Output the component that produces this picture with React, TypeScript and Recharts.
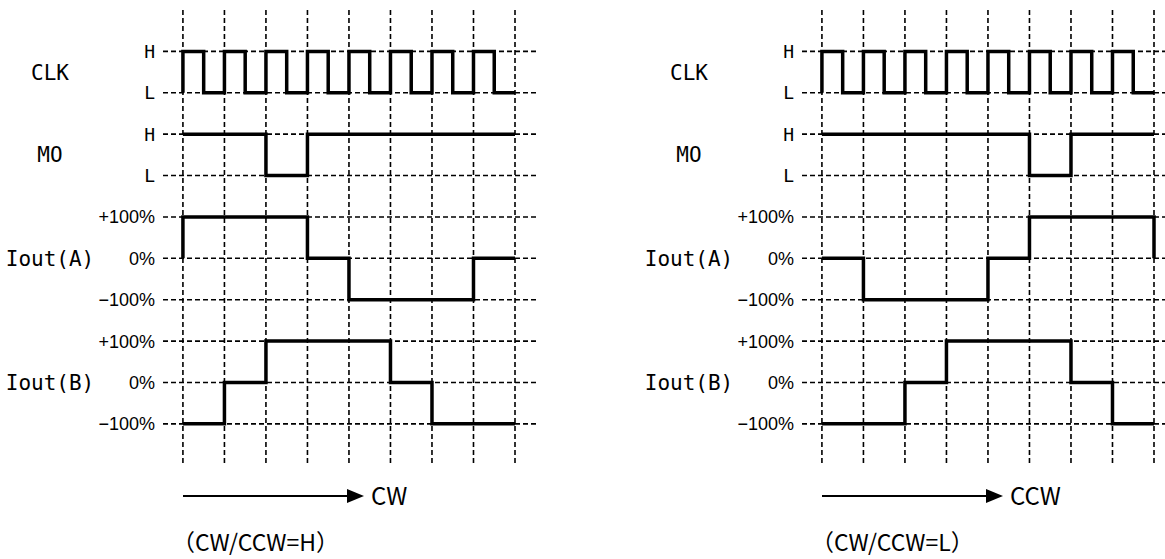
import React from "react";
import { CartesianGrid, Line, LineChart, XAxis, YAxis } from "recharts";

// one grid column = one clock period, 8 periods shown
const clkTimes = [0, 0, 0.5, 1, 1.5, 2, 2.5, 3, 3.5, 4, 4.5, 5, 5.5, 6, 6.5, 7, 7.5, 8];
const clkLevels = [0, 1, 0, 1, 0, 1, 0, 1, 0, 1, 0, 1, 0, 1, 0, 1, 0, 0];

// CW/CCW = H
const cwMoTimes = [0, 2, 3, 8];
const cwMoLevels = [1, 0, 1, 1];
const cwIaTimes = [0, 0, 3, 4, 7, 8];
const cwIaLevels = [0, 100, 0, -100, 0, 0];
const cwIbTimes = [0, 1, 2, 5, 6, 8];
const cwIbLevels = [-100, 0, 100, 0, -100, -100];

// CW/CCW = L
const ccwMoTimes = [0, 5, 6, 8];
const ccwMoLevels = [1, 0, 1, 1];
const ccwIaTimes = [0, 1, 4, 5, 8, 8];
const ccwIaLevels = [0, -100, 0, 100, 100, 0];
const ccwIbTimes = [0, 2, 3, 6, 7, 8];
const ccwIbLevels = [-100, 0, 100, 0, -100, -100];

const gridTimes = [0, 1, 2, 3, 4, 5, 6, 7, 8];
const levelRows = [0, 1, 2, 3, 4, 5, 6, 7, 8, 9];
const levelLabels = ["−100%", "0%", "+100%", "−100%", "0%", "+100%", "L", "H", "L", "H"];
const signalNames = ["CLK", "MO", "Iout(A)", "Iout(B)"];
const signalRows = [8.5, 6.5, 4, 1];

const toRows = (times: number[], levels: number[], base: number, unit: number) =>
    times.map((t, i) => ({ t, v: base + levels[i] / unit }));

const LevelTick = (props: any) => {
    const { x, y, payload } = props;
    const label = levelLabels[levelRows.indexOf(payload.value)];
    const logic = label === "H" || label === "L";
    return (
        <text
            x={x}
            y={y}
            dy="0.36em"
            textAnchor="end"
            fill="#000"
            fontSize={18}
            fontFamily={logic ? "'DejaVu Sans Mono'" : "'Liberation Sans'"}
        >
            {label}
        </text>
    );
};

const NameTick = (props: any) => {
    const { x, y, payload } = props;
    const name = signalNames[signalRows.indexOf(payload.value)];
    return (
        <text x={x} y={y} dy="0.36em" textAnchor="middle" fill="#000" fontSize={21} fontFamily="'DejaVu Sans Mono'">
            {name}
        </text>
    );
};

function Panel({ left, mo, ia, ib, dir, caption }) {
    const series = [
        toRows(clkTimes, clkLevels, 8, 1),
        toRows(mo[0], mo[1], 6, 1),
        toRows(ia[0], ia[1], 4, 100),
        toRows(ib[0], ib[1], 1, 100)
    ];
    return (
        <div style={{ position: "absolute", left, top: 0, width: 560, height: 559 }}>
            <LineChart width={560} height={480} margin={{ top: 10, right: 23, bottom: 16, left: 0 }}>
                <CartesianGrid stroke="#000" strokeWidth={1.6} strokeDasharray="5 3" syncWithTicks />
                <XAxis type="number" dataKey="t" domain={[-0.48, 8.53]} ticks={gridTimes} allowDataOverflow hide />
                <YAxis
                    type="number"
                    domain={[-0.97, 10]}
                    ticks={levelRows}
                    interval={0}
                    width={55}
                    axisLine={false}
                    tickLine={false}
                    tickSize={0}
                    tickMargin={8}
                    tick={<LevelTick />}
                    allowDataOverflow
                />
                <YAxis
                    yAxisId="names"
                    type="number"
                    domain={[-0.97, 10]}
                    ticks={signalRows}
                    interval={0}
                    width={108}
                    axisLine={false}
                    tickLine={false}
                    tickSize={0}
                    tickMargin={58}
                    tick={<NameTick />}
                    allowDataOverflow
                />
                {series.map((d, i) => (
                    <Line
                        key={i}
                        data={d}
                        dataKey="v"
                        type="stepAfter"
                        stroke="#000"
                        strokeWidth={3.5}
                        dot={false}
                        activeDot={false}
                        isAnimationActive={false}
                    />
                ))}
            </LineChart>
            <svg width={560} height={559} style={{ position: "absolute", left: 0, top: 0, pointerEvents: "none" }}>
                <line x1={183} y1={496} x2={350} y2={496} stroke="#000" strokeWidth={2} />
                <polygon points="347,489 347,503 364,496" fill="#000" />
                <text x={371} y={505} fontSize={24} fontFamily="'Noto Sans CJK JP'" fill="#000">
                    {dir}
                </text>
                <text x={172} y={551} fontSize={23} fontFamily="'Noto Sans CJK JP'" fill="#000">
                    {caption}
                </text>
            </svg>
        </div>
    );
}

export default function App() {
    return (
        <div style={{ position: "absolute", left: 0, top: 0, width: 1165, height: 559, overflow: "hidden", background: "#fff" }}>
            <Panel
                left={0}
                mo={[cwMoTimes, cwMoLevels]}
                ia={[cwIaTimes, cwIaLevels]}
                ib={[cwIbTimes, cwIbLevels]}
                dir="CW"
                caption="（CW/CCW=H）"
            />
            <Panel
                left={639}
                mo={[ccwMoTimes, ccwMoLevels]}
                ia={[ccwIaTimes, ccwIaLevels]}
                ib={[ccwIbTimes, ccwIbLevels]}
                dir="CCW"
                caption="（CW/CCW=L）"
            />
        </div>
    );
}
